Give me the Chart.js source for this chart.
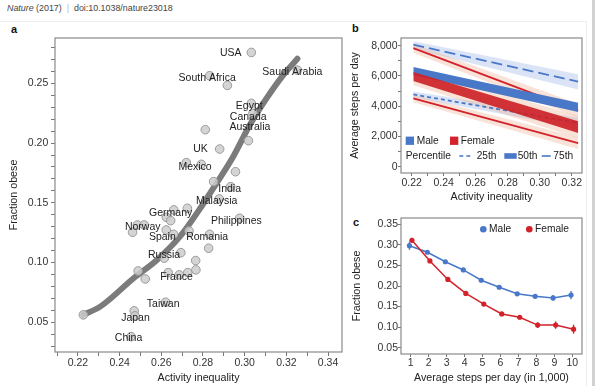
<!DOCTYPE html>
<html><head><meta charset="utf-8">
<script src="https://cdn.jsdelivr.net/npm/chart.js@4.4.1/dist/chart.umd.min.js"></script>
<style>
html,body{margin:0;padding:0;background:#fff;}
body{width:595px;height:386px;position:relative;overflow:hidden;font-family:'Liberation Sans',Arial,sans-serif;}
canvas{position:absolute;left:0;top:0;}
.hdr{position:absolute;left:7px;top:3px;font-size:8.9px;line-height:10px;color:#444;white-space:nowrap;}
.lbl{position:absolute;font-weight:bold;font-size:11px;line-height:11px;color:#111;}
</style></head><body>
<div class="hdr"><i>Nature</i> (2017) <span style="color:#bbb">&nbsp;|&nbsp;</span> doi:10.1038/nature23018</div>
<div style="position:absolute;left:0;top:21px;width:586px;height:370px;border-top:1px solid #eee;border-right:1px solid #eee"></div>
<div style="position:absolute;left:592px;top:0;width:3px;height:386px;background:#d2d2d2"></div>
<div class="lbl" style="left:11px;top:24px">a</div>
<div class="lbl" style="left:352px;top:23px">b</div>
<div class="lbl" style="left:353px;top:217px">c</div>
<canvas id="ca" width="595" height="386"></canvas>
<canvas id="cb" width="595" height="386"></canvas>
<canvas id="cc" width="595" height="386"></canvas>
<script>
// ---------- Panel a data ----------
const countryX = [0.3032,0.2832,0.2917,0.3253,0.3032,0.3040,0.3018,0.2811,0.2880,0.2720,0.2792,0.2956,0.2851,0.2933,0.2878,0.2660,0.2725,0.2624,0.2645,0.2976,0.2485,0.2518,0.2462,0.2624,0.2659,0.2733,0.2832,0.2827,0.2694,0.2614,0.2765,0.2766,0.2727,0.2686,0.2633,0.2489,0.2523,0.2621,0.2470,0.2474,0.2455,0.2226];
const countryY = [0.2759,0.2564,0.2483,0.2611,0.2333,0.2249,0.2020,0.2112,0.1950,0.1836,0.1822,0.1760,0.1677,0.1635,0.1532,0.1440,0.1454,0.1379,0.1350,0.1370,0.1314,0.1314,0.1253,0.1272,0.1236,0.1264,0.1236,0.1119,0.1082,0.1036,0.1016,0.0938,0.0915,0.0896,0.0915,0.0929,0.0862,0.0667,0.0595,0.0553,0.0379,0.0561];
const fitX = [0.2226,0.2307,0.2467,0.2579,0.2689,0.2792,0.2864,0.2944,0.3024,0.3104,0.3184,0.3253];
const fitY = [0.0561,0.0630,0.0868,0.1021,0.1216,0.1467,0.1661,0.1884,0.2149,0.2372,0.2567,0.2706];
const labelNames = ['USA','South Africa','Saudi Arabia','Egypt','Canada','Australia','UK','Mexico','India','Malaysia','Germany','Philippines','Norway','Spain','Romania','Russia','France','Taiwan','Japan','China'];
const labelX = [0.2933,0.2820,0.3229,0.3022,0.3017,0.3025,0.2788,0.2762,0.2928,0.2866,0.2645,0.2960,0.2511,0.2605,0.2820,0.2613,0.2673,0.2609,0.2476,0.2443];
const labelY = [0.2751,0.2547,0.2597,0.2313,0.2220,0.2132,0.1950,0.1797,0.1616,0.1515,0.1412,0.1350,0.1300,0.1216,0.1216,0.1063,0.0877,0.0650,0.0533,0.0363];
const aXTicks = [0.21,0.22,0.23,0.24,0.25,0.26,0.27,0.28,0.29,0.30,0.31,0.32,0.33,0.34];
const aXLabels = [0.22,0.24,0.26,0.28,0.30,0.32,0.34];
const aYTicks = [0.03,0.04,0.05,0.06,0.07,0.08,0.09,0.10,0.11,0.12,0.13,0.14,0.15,0.16,0.17,0.18,0.19,0.20,0.21,0.22,0.23,0.24,0.25,0.26,0.27,0.28];
const aYLabels = [0.05,0.10,0.15,0.20,0.25];

// ---------- Panel b data ----------
const bIneq = [0.221, 0.324];
const male75 = [8067, 5627], male75Lo = [7780, 5110], male75Hi = [8290, 6110];
const male50Lo = [6067, 3622], male50Hi = [6600, 4222];
const male25 = [4778, 2889], male25Lo = [4580, 2540], male25Hi = [4980, 3240];
const fem75 = [7844, 3711], fem75Lo = [7540, 3260], fem75Hi = [8140, 4160];
const fem50Lo = [5667, 2222], fem50Hi = [6267, 3000], fem50PaleLo = [5400, 1900], fem50PaleHi = [6550, 3350];
const fem25 = [4511, 1556], fem25Lo = [4260, 1160], fem25Hi = [4760, 1950];
const bXTicks = [0.22,0.23,0.24,0.25,0.26,0.27,0.28,0.29,0.30,0.31,0.32];
const bXLabels = [0.22,0.24,0.26,0.28,0.30,0.32];
const bYTicks = [0,1000,2000,3000,4000,5000,6000,7000,8000];
const bYLabels = [0,2000,4000,6000,8000];

// ---------- Panel c data ----------
const stepsK = [1,2,3,4,5,6,7,8,9,10];
const maleObese = [0.298,0.282,0.259,0.239,0.214,0.197,0.181,0.175,0.171,0.178];
const maleErr = [0.010,0.004,0.003,0.003,0.003,0.003,0.004,0.005,0.007,0.010];
const femaleObese = [0.311,0.261,0.216,0.182,0.156,0.132,0.124,0.105,0.105,0.095];
const femaleErr = [0.006,0.004,0.003,0.003,0.003,0.004,0.005,0.007,0.009,0.011];
const cYTicks = [0.05,0.10,0.15,0.20,0.25,0.30,0.35];

const F = "'Liberation Sans', Arial, sans-serif";
const BLUE = '#4a78c9', RED = '#d3222a';
const PALEBLUE = 'rgba(176,196,235,0.45)', PEACH = 'rgba(240,178,150,0.38)';
Chart.defaults.font.family = F;
Chart.defaults.animation = false;

const has = (arr, v) => arr.some(a => Math.abs(a - v) < 1e-9);
function axis(min, max, tickVals, fmt, title, tl, pad, fixed, isX) {
  return {
    type: 'linear', min, max,
    afterBuildTicks(s) { s.ticks = tickVals.map(v => ({ value: v })); },
    ticks: { autoSkip: false, maxRotation: 0, padding: pad,
      color: '#333', font: { family: F, size: 10.5 }, callback: v => fmt(v) },
    grid: { drawOnChartArea: false, drawTicks: true, tickLength: tl, color: '#777', lineWidth: 1 },
    border: { display: false },
    title: { display: true, text: title, color: '#222', font: { family: F, size: 10.7 }, padding: 0 },
    afterFit(s) { if (isX) s.height = fixed; else s.width = fixed; }
  };
}
const framePlugin = { id: 'frame', afterDatasetsDraw(chart) {
  const { ctx, chartArea: a } = chart; ctx.save(); ctx.strokeStyle = '#8a8a8a'; ctx.lineWidth = 1.2;
  ctx.strokeRect(a.left, a.top, a.right - a.left, a.bottom - a.top); ctx.restore(); } };
const xy = (xs, ys) => xs.map((x, i) => ({ x, y: ys[i] }));
const base = { responsive: false, animation: false, events: [],
  plugins: { legend: { display: false }, tooltip: { enabled: false } } };
const thousands = v => String(Math.round(v)).replace(/\B(?=(\d{3})+(?!\d))/g, ',');

// ---------- Panel a ----------
new Chart(document.getElementById('ca'), {
  type: 'line',
  data: { datasets: [
    { data: xy(countryX, countryY), showLine: false, pointRadius: 4.3, pointBackgroundColor: 'rgba(205,205,205,0.85)', pointBorderColor: '#9a9a9a', pointBorderWidth: 1, order: 1 },
    { data: xy(fitX, fitY), borderColor: '#7b7b7b', borderWidth: 6, pointRadius: 0, tension: 0.4, cubicInterpolationMode: 'monotone', borderCapStyle: 'round', order: 2 }
  ] },
  options: Object.assign({}, base, {
    layout: { padding: { left: 8.1, top: 38, right: 253, bottom: 1.6 } },
    scales: {
      x: axis(0.209, 0.3467, aXTicks, v => has(aXLabels, v) ? v.toFixed(2) : '', 'Activity inequality', 4, 1, 32.4, true),
      y: axis(0.025, 0.288, aYTicks, v => has(aYLabels, v) ? v.toFixed(2) : '', 'Fraction obese', 4, 2.7, 46.9, false)
    }
  }),
  plugins: [framePlugin, { id: 'countryLabels', afterDatasetsDraw(chart) {
    const { ctx, scales: { x, y } } = chart; ctx.save();
    ctx.font = '10.5px ' + F; ctx.fillStyle = '#222'; ctx.textAlign = 'center'; ctx.textBaseline = 'middle';
    labelNames.forEach((n, i) => ctx.fillText(n, x.getPixelForValue(labelX[i]), y.getPixelForValue(labelY[i])));
    ctx.restore(); } }]
});

// ---------- Panel b ----------
const bDs = [];
function band(lo, hi, color) {
  bDs.push({ data: xy(bIneq, lo), borderWidth: 0, pointRadius: 0, fill: false });
  bDs.push({ data: xy(bIneq, hi), borderWidth: 0, pointRadius: 0, fill: '-1', backgroundColor: color });
}
function line(vals, color, width, dash) {
  bDs.push({ data: xy(bIneq, vals), borderColor: color, borderWidth: width, borderDash: dash || [], pointRadius: 0, fill: false, borderCapStyle: 'butt' });
}
band(male75Lo, male75Hi, PALEBLUE);
band(male25Lo, male25Hi, PALEBLUE);
band(fem75Lo, fem75Hi, PEACH);
band(fem25Lo, fem25Hi, PEACH);
band(fem50PaleLo, fem50PaleHi, PEACH);
line(male75, BLUE, 1.8, [11, 5]);
line(male25, BLUE, 1.8, [4, 3]);
line(fem75, RED, 1.8);
line(fem25, RED, 1.8);
band(male50Lo, male50Hi, BLUE);
band(fem50Lo, fem50Hi, 'rgba(205,35,40,0.92)');
bDs.forEach((d, i) => d.order = 100 - i);

new Chart(document.getElementById('cb'), {
  type: 'line',
  data: { datasets: bDs },
  options: Object.assign({}, base, {
    layout: { padding: { left: 348.6, top: 38, right: 13, bottom: 182.6 } },
    scales: {
      x: axis(0.2133, 0.3264, bXTicks, v => has(bXLabels, v) ? v.toFixed(2) : '', 'Activity inequality', 3, 0.4, 30.4, true),
      y: axis(-420, 8513, bYTicks, v => has(bYLabels, v) ? thousands(v) : '', 'Average steps per day', 3, 0.5, 52.4, false)
    }
  }),
  plugins: [framePlugin, { id: 'legendB', afterDatasetsDraw(chart) {
    const { ctx, chartArea: a } = chart; const L = a.left, y1 = a.bottom - 32.2, y2 = a.bottom - 17;
    ctx.save(); ctx.font = '10.2px ' + F; ctx.textBaseline = 'middle'; ctx.textAlign = 'left';
    ctx.fillStyle = BLUE; ctx.fillRect(L + 4.7, y1 - 4.2, 8.3, 8.3);
    ctx.fillStyle = RED; ctx.fillRect(L + 49, y1 - 4.2, 8.3, 8.3);
    ctx.fillStyle = '#222';
    ctx.fillText('Male', L + 15.7, y1); ctx.fillText('Female', L + 59.7, y1);
    ctx.fillText('Percentile', L + 4.7, y2);
    ctx.fillText('25th', L + 75.7, y2); ctx.fillText('50th', L + 116.7, y2); ctx.fillText('75th', L + 152.3, y2);
    ctx.strokeStyle = BLUE; ctx.lineWidth = 1.6; ctx.setLineDash([4, 3]);
    ctx.beginPath(); ctx.moveTo(L + 58.3, y2); ctx.lineTo(L + 72.3, y2); ctx.stroke();
    ctx.setLineDash([]); ctx.beginPath(); ctx.moveTo(L + 140.7, y2); ctx.lineTo(L + 149.7, y2); ctx.stroke();
    ctx.fillStyle = BLUE; ctx.fillRect(L + 103.3, y2 - 2.8, 12.4, 5.6);
    ctx.restore(); } }]
});

// ---------- Panel c ----------
const dodge = 0.07;
new Chart(document.getElementById('cc'), {
  type: 'line',
  data: { datasets: [
    { data: stepsK.map((s, i) => ({ x: s + dodge, y: femaleObese[i] })), borderColor: RED, backgroundColor: RED, borderWidth: 1.5, pointRadius: 2.6, pointBorderWidth: 0, tension: 0 },
    { data: stepsK.map((s, i) => ({ x: s - dodge, y: maleObese[i] })), borderColor: BLUE, backgroundColor: BLUE, borderWidth: 1.5, pointRadius: 2.6, pointBorderWidth: 0, tension: 0 }
  ] },
  options: Object.assign({}, base, {
    layout: { padding: { left: 350.3, top: 218, right: 13, bottom: 1.6 } },
    scales: {
      x: axis(0.46, 10.54, stepsK, v => String(v), 'Average steps per day (in 1,000)', 3, 0, 30.4, true),
      y: axis(0.0347, 0.3653, cYTicks, v => v.toFixed(2), 'Fraction obese', 3, 0, 50.7, false)
    }
  }),
  plugins: [framePlugin, { id: 'errLegend', afterDatasetsDraw(chart) {
    const { ctx, chartArea: a, scales: { x, y } } = chart; ctx.save(); ctx.lineWidth = 1.3;
    const drawErr = (vals, errs, off, col) => { ctx.strokeStyle = col; vals.forEach((v, i) => {
      const px = x.getPixelForValue(stepsK[i] + off); ctx.beginPath();
      ctx.moveTo(px, y.getPixelForValue(v + errs[i])); ctx.lineTo(px, y.getPixelForValue(v - errs[i])); ctx.stroke(); }); };
    drawErr(maleObese, maleErr, -dodge, BLUE); drawErr(femaleObese, femaleErr, dodge, RED);
    const ly = a.top + 11.3;
    ctx.fillStyle = BLUE; ctx.beginPath(); ctx.arc(a.right - 98.7, ly, 3.3, 0, 2 * Math.PI); ctx.fill();
    ctx.fillStyle = RED; ctx.beginPath(); ctx.arc(a.right - 52.7, ly, 3.3, 0, 2 * Math.PI); ctx.fill();
    ctx.fillStyle = '#222'; ctx.font = '10.2px ' + F; ctx.textBaseline = 'middle'; ctx.textAlign = 'left';
    ctx.fillText('Male', a.right - 93, ly); ctx.fillText('Female', a.right - 47, ly);
    ctx.restore(); } }]
});
</script>
</body></html>
